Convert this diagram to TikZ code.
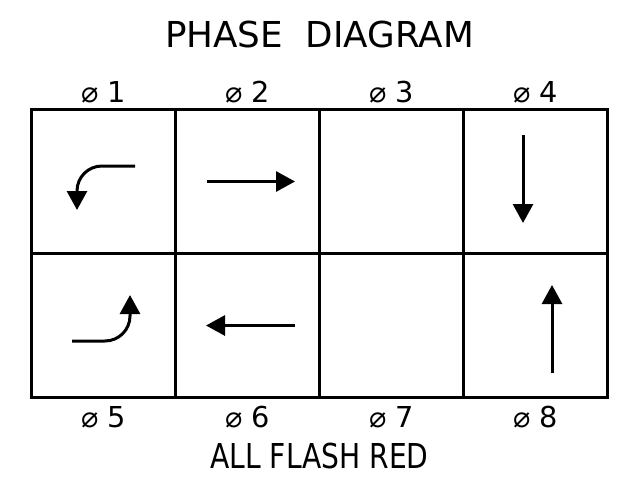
\documentclass[tikz,border=0pt]{standalone}
\usepackage{fontspec}
\setmainfont{DejaVu Sans}
\newfontfamily\narrowfont[FakeStretch=0.82]{DejaVu Sans}
\usepackage{tikz}
\usetikzlibrary{positioning,arrows.meta}
\tikzset{
  cell/.style={draw, line width=3pt, minimum width=144pt, minimum height=144pt,
               inner sep=0pt, outer sep=0pt},
  move/.style={-{Triangle[length=19pt,width=20pt]}, line width=3pt},
  phaselbl/.style={inner sep=0pt, font=\fontsize{28.8}{30}\selectfont},
  heading/.style={inner sep=0pt, font=\fontsize{35.7}{38}\selectfont}
}

\begin{document}
\begin{tikzpicture}[x=1pt, y=1pt, node distance=0pt]
    \useasboundingbox (0,0) rectangle (623,-487);
    \node[cell] at (103.5,-181.5) (c1) {};
    \node[cell, right=of c1] (c2) {};
    \node[cell, right=of c2] (c3) {};
    \node[cell, right=of c3] (c4) {};
    \node[cell, below=of c1] (c5) {};
    \node[cell, right=of c5] (c6) {};
    \node[cell, right=of c6] (c7) {};
    \node[cell, right=of c7] (c8) {};
    \foreach \i in {1,...,4} {
      \node[phaselbl, above=7pt of c\i, anchor=base] (l\i) {⌀ \i};
    }
    \foreach \i in {5,...,8} {
      \node[phaselbl, below=29.5pt of c\i, anchor=base] (l\i) {⌀ \i};
    }
    \node[heading, above=61.5pt of c2.north east, anchor=base] (title) {PHASE\ \ DIAGRAM};
    \node[heading, below=70.5pt of c6.south east, anchor=base, font=\narrowfont\fontsize{34.3}{36}\selectfont] (allred) {ALL FLASH RED};
    \coordinate (a1s) at ([shift={(31.5,15.5)}]c1.center);
    \coordinate (a1e) at ([shift={(-26.5,-28.5)}]c1.center);
    \coordinate (a2s) at ([shift={(-40.5,0)}]c2.center);
    \coordinate (a2e) at ([shift={(47.5,0)}]c2.center);
    \coordinate (a4s) at ([shift={(-12.5,46.5)}]c4.center);
    \coordinate (a4e) at ([shift={(-12.5,-41.5)}]c4.center);
    \coordinate (a5s) at ([shift={(-31.5,-15.5)}]c5.center);
    \coordinate (a5e) at ([shift={(26.5,30.5)}]c5.center);
    \coordinate (a6s) at ([shift={(47.5,0)}]c6.center);
    \coordinate (a6e) at ([shift={(-41.5,0)}]c6.center);
    \coordinate (a8s) at ([shift={(16.5,-47.5)}]c8.center);
    \coordinate (a8e) at ([shift={(16.5,40.5)}]c8.center);
    \draw[move, rounded corners=25pt] (a1s) -| (a1e); \draw[move] (a2s) -- (a2e);
    \draw[move] (a4s) -- (a4e);
    \draw[move, rounded corners=25pt] (a5s) -| (a5e); \draw[move] (a6s) -- (a6e);
    \draw[move] (a8s) -- (a8e);
  \end{tikzpicture}
\end{document}
